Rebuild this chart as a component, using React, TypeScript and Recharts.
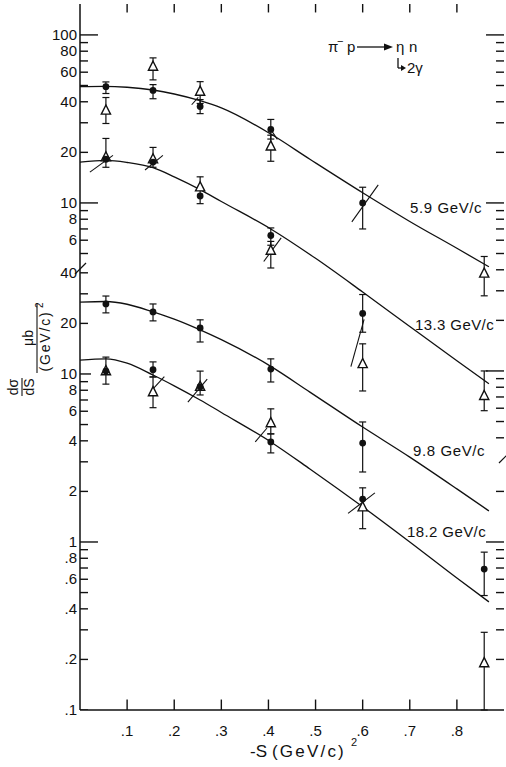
import React from 'react';
import { ComposedChart, XAxis, YAxis, Line, Scatter, ErrorBar, ReferenceLine } from 'recharts';

const W = 506;
const H = 767;
const FONT = '"Liberation Sans", Arial, Helvetica, sans-serif';
// upper panel (5.9 and 13.3 GeV/c) is displaced by this many decades on the shared log axis
const UPPER_OFFSET = 1.018;

// ---------- axis ticks ----------
const xTicks = [0.1, 0.2, 0.3, 0.4, 0.5, 0.6, 0.7, 0.8];
const xTickLabels = ['.1', '.2', '.3', '.4', '.5', '.6', '.7', '.8'];

const lowerLeftTicks = [0.1, 0.2, 0.3, 0.4, 0.5, 0.6, 0.7, 0.8, 0.9, 1, 2, 3, 4, 5, 6, 7, 8, 9, 10, 20, 30, 40];
const upperLeftTicks = [5, 6, 7, 8, 9, 10, 20, 30, 40, 50, 60, 70, 80, 90, 100];
const lowerRightTicks = [0.2, 0.3, 0.4, 0.5, 0.6, 0.7, 0.8, 0.9, 1, 2];
const upperRightTicks = [0.4, 0.5, 0.6, 0.7, 0.8, 0.9, 1, 2, 3, 4, 5, 6, 7, 8, 9, 10, 20, 30, 40, 50, 60, 70, 80, 90, 100];

const lowerLabels: Record<string, string> = {
  '0.1': '.1', '0.2': '.2', '0.4': '.4', '0.6': '.6', '0.8': '.8', '1': '1', '2': '2', '4': '4',
  '6': '6', '8': '8', '10': '10', '20': '20', '40': '40',
};
const upperLabels: Record<string, string> = {
  '6': '6', '8': '8', '10': '10', '20': '20', '40': '40', '60': '60', '80': '80', '100': '100',
};

// ---------- data: [ -t, value, low, high ] ----------
const circles59 = [
  [0.055, 49.2, 44.8, 52.5],
  [0.155, 46.7, 41.7, 50.6],
  [0.255, 37.5, 34.0, 41.2],
  [0.405, 27.4, 24.0, 31.4],
  [0.6, 10.0, 7.0, 12.4],
];
const triangles59 = [
  [0.055, 35.5, 29.7, 42.4],
  [0.155, 64.7, 54.0, 73.0],
  [0.255, 46.0, 39.1, 52.7],
  [0.405, 21.7, 17.7, 25.3],
  [0.858, 3.8, 2.8, 4.8],
];
const curve59T = [0, 0.05, 0.1, 0.155, 0.2, 0.255, 0.3, 0.405, 0.488, 0.6, 0.7, 0.8, 0.868];
const curve59V = [49.2, 49.4, 48.8, 47.0, 44.5, 40.6, 36.8, 25.7, 18.2, 11.5, 7.76, 5.37, 4.17];

const circles133 = [
  [0.055, 18.2, 16.3, 24.2],
  [0.155, 17.5, 16.3, 21.4],
  [0.255, 11.0, 9.9, 14.3],
  [0.405, 6.4, 5.6, 7.1],
  [0.6, 2.2, 1.7, 2.85],
];
const triangles133 = [
  [0.055, 18.7],
  [0.155, 18.2],
  [0.255, 12.4],
];
const triangles133Err = [
  [0.405, 5.2, 4.1, 5.9],
  [0.6, 1.1, 0.76, 1.45],
  [0.858, 0.71, 0.58, 1.0],
];
const curve133T = [0, 0.055, 0.1, 0.155, 0.2, 0.255, 0.3, 0.405, 0.5, 0.6, 0.7, 0.8, 0.868];
const curve133V = [17.5, 17.9, 17.4, 16.2, 14.3, 12.0, 10.2, 7.0, 4.68, 2.95, 1.84, 1.15, 0.84];

const circles98 = [
  [0.055, 26.1, 23.1, 29.1],
  [0.155, 23.4, 20.7, 26.1],
  [0.255, 18.8, 15.5, 21.0],
  [0.405, 10.7, 8.96, 12.3],
  [0.6, 3.88, 2.61, 5.18],
];
const curve98T = [0, 0.055, 0.1, 0.155, 0.2, 0.255, 0.3, 0.405, 0.488, 0.6, 0.7, 0.8, 0.868];
const curve98V = [26.8, 27.0, 26.0, 23.4, 21.2, 18.3, 16.0, 11.1, 7.8, 4.83, 3.2, 2.07, 1.53];

const circles182 = [
  [0.055, 10.4, 8.7, 12.6],
  [0.155, 10.6, 9.6, 11.8],
  [0.255, 8.4, 7.5, 10.4],
  [0.405, 3.94, 3.39, 4.4],
  [0.6, 1.8, 1.2, 2.1],
  [0.858, 0.69, 0.48, 0.87],
];
const triangles182 = [
  [0.055, 10.4],
  [0.255, 8.4],
  [0.6, 1.61],
];
const triangles182Err = [
  [0.155, 7.8, 6.3, 9.6],
  [0.405, 5.1, 4.4, 6.2],
  [0.858, 0.19, 0.1, 0.29],
];
const curve182T = [0, 0.055, 0.1, 0.155, 0.2, 0.255, 0.3, 0.405, 0.488, 0.6, 0.7, 0.8, 0.868];
const curve182V = [12.1, 12.3, 11.6, 9.86, 8.5, 7.0, 5.9, 3.94, 2.72, 1.62, 1.0, 0.61, 0.44];

// slanted resolution bars: [t1, v1, t2, v2, upperPanel]
const slants: [number, number, number, number, boolean][] = [
  [0.237, 38.4, 0.251, 42.5, true],
  [0.407, 26.8, 0.419, 23.9, true],
  [0.577, 7.72, 0.633, 12.8, true],
  [0.021, 15.25, 0.07, 19.2, true],
  [0.138, 15.7, 0.176, 19.2, true],
  [0.39, 4.48, 0.427, 6.2, true],
  [0.575, 1.06, 0.603, 2.03, true],
  [0.156, 8.22, 0.179, 9.63, false],
  [0.229, 6.8, 0.27, 9.33, false],
  [0.372, 3.94, 0.397, 4.77, false],
  [0.569, 1.48, 0.626, 1.96, false],
];

// ---------- helpers ----------
const toD = (v: number, upper: boolean) => Math.log10(v) + (upper ? UPPER_OFFSET : 0);
const X_MIN = 0;
const X_MAX = 0.9;
const D_MIN = -1;
const D_MAX = 3.202;
const MARGIN = { top: 4, right: 2, left: 0, bottom: 0 };
const Y_AXIS_W = 80;
const X_AXIS_H = 57;

const pts = (arr: number[][], upper: boolean) =>
  arr.map((p) => {
    const d = toD(p[1], upper);
    const o: any = { t: p[0], d };
    if (p.length > 2) o.err = [d - toD(p[2], upper), toD(p[3], upper) - d];
    return o;
  });
const curve = (ts: number[], vs: number[], upper: boolean) => ts.map((t, i) => ({ t, d: toD(vs[i], upper) }));

type Tk = { d: number; label: string; len: number };
const mkTicks = (vals: number[], upper: boolean, labels: Record<string, string> | null, longSet: number[]): Tk[] =>
  vals.map((v) => ({
    d: toD(v, upper),
    label: labels ? labels[String(v)] || '' : '',
    len: longSet.includes(v) ? 18 : v === 10 && !upper ? 11 : 8,
  }));

const leftTicks: Tk[] = [
  ...mkTicks(lowerLeftTicks, false, lowerLabels, [1]),
  ...mkTicks(upperLeftTicks, true, upperLabels, [10, 100]),
];
const rightTicks: Tk[] = [
  ...mkTicks(lowerRightTicks, false, null, [1]),
  ...mkTicks(upperRightTicks, true, null, [1, 10, 100]),
];
const findTick = (list: Tk[], v: number) => list.find((t) => Math.abs(t.d - v) < 1e-6);

// inward tick marks on all four sides of the frame, anchored through the chart scales.
// The anchor sits a little inside the frame and the stroke is drawn back out to the edge.
const IN = 0.004;
const frameTicks = [
  ...leftTicks.map((t) => ({ t: X_MIN + IN, d: t.d, ax: -1, dx: t.len, dy: 0 })),
  ...rightTicks.map((t) => ({ t: X_MAX - IN, d: t.d, ax: 1, dx: -t.len, dy: 0 })),
  ...xTicks.map((t) => ({ t, d: D_MIN + 0.02, ay: 1, dx: 0, dy: -13 })),
  ...xTicks.map((t) => ({ t, d: D_MAX - 0.02, ay: -1, dx: 0, dy: 11 })),
];

const LeftTick = (props: any) => {
  const { x, y, payload } = props;
  const tk = findTick(leftTicks, payload.value);
  if (!tk || !tk.label) return <g />;
  return (
    <text x={x - 3} y={y + 5} textAnchor="end" fontSize={15} fontFamily={FONT} fill="#111">
      {tk.label}
    </text>
  );
};
const BottomTick = (props: any) => {
  const { x, y, payload, index } = props;
  const i = xTicks.indexOf(payload.value);
  return (
    <text x={x} y={y + 26} textAnchor="middle" fontSize={15} fontFamily={FONT} fill="#111">
      {xTickLabels[i >= 0 ? i : index]}
    </text>
  );
};

// one stroke per frame tick; starts on the frame edge (snapped by the anchor offset) and runs inward
const TickStroke = (p: any) => {
  const pl = p.payload || {};
  const x0 = p.cx + (pl.ax ? pl.ax * 1.9 : 0);
  const y0 = p.cy + (pl.ay ? pl.ay * 5.9 : 0);
  const x1 = pl.dx ? x0 + pl.dx : x0;
  const y1 = pl.dy ? y0 + pl.dy : y0;
  return <path d={`M${x0},${y0}L${x1},${y1}`} stroke="#111" strokeWidth={1.4} fill="none" />;
};
const Dot = (p: any) => <circle cx={p.cx} cy={p.cy} r={3.4} fill="#111" />;
const Tri = (p: any) => (
  <polygon
    points={`${p.cx},${p.cy - 5.5} ${p.cx - 4.6},${p.cy + 3.6} ${p.cx + 4.6},${p.cy + 3.6}`}
    fill="#fff"
    stroke="#111"
    strokeWidth={1.4}
  />
);

const curves = [
  curve(curve59T, curve59V, true),
  curve(curve133T, curve133V, true),
  curve(curve98T, curve98V, false),
  curve(curve182T, curve182V, false),
];
const triErr = [pts(triangles59, true), pts(triangles133Err, true), pts(triangles182Err, false)];
const triNoErr = [pts(triangles133, true), pts(triangles182, false)];
const dotSets = [pts(circles59, true), pts(circles133, true), pts(circles98, false), pts(circles182, false)];

const txt = { fontFamily: FONT, fill: '#111' } as const;

export default function App() {
  return (
    <div style={{ position: 'relative', width: W, height: H, background: '#fff' }}>
      <style>{`body{margin:0;background:#fff}`}</style>
      <ComposedChart width={W} height={H} margin={MARGIN}>
        <XAxis
          xAxisId="b"
          dataKey="t"
          type="number"
          domain={[X_MIN, X_MAX]}
          allowDataOverflow
          ticks={xTicks}
          interval={0}
          height={X_AXIS_H}
          tickSize={0}
          tickMargin={0}
          tickLine={false}
          axisLine={{ stroke: '#111', strokeWidth: 1.5 }}
          tick={(p: any) => <BottomTick {...p} />}
        />
        <XAxis
          xAxisId="top"
          orientation="top"
          dataKey="t"
          type="number"
          domain={[X_MIN, X_MAX]}
          allowDataOverflow
          height={0}
          tick={false}
          tickLine={false}
          axisLine={{ stroke: '#111', strokeWidth: 1.5 }}
        />
        <YAxis
          yAxisId="l"
          type="number"
          domain={[D_MIN, D_MAX]}
          allowDataOverflow
          ticks={leftTicks.map((t) => t.d)}
          interval={0}
          width={Y_AXIS_W}
          tickSize={0}
          tickMargin={0}
          tickLine={false}
          axisLine={{ stroke: '#111', strokeWidth: 1.5 }}
          tick={(p: any) => <LeftTick {...p} />}
        />
        <YAxis
          yAxisId="r"
          orientation="right"
          type="number"
          domain={[D_MIN, D_MAX]}
          allowDataOverflow
          width={0}
          tick={false}
          tickLine={false}
          axisLine={{ stroke: '#111', strokeWidth: 1.5 }}
        />
        {curves.map((c, i) => (
          <Line
            key={'c' + i}
            xAxisId="b"
            yAxisId="l"
            data={c}
            dataKey="d"
            type="monotone"
            dot={false}
            activeDot={false}
            stroke="#111"
            strokeWidth={1.3}
            isAnimationActive={false}
          />
        ))}
        <Scatter
          xAxisId="b"
          yAxisId="l"
          data={frameTicks}
          dataKey="d"
          shape={(p: any) => <TickStroke {...p} />}
          isAnimationActive={false}
        />
        {slants.map((s, i) => (
          <ReferenceLine
            key={'s' + i}
            xAxisId="b"
            yAxisId="l"
            segment={[
              { x: s[0], y: toD(s[1], s[4]) },
              { x: s[2], y: toD(s[3], s[4]) },
            ]}
            stroke="#111"
            strokeWidth={1.1}
            ifOverflow="visible"
          />
        ))}
        {triErr.map((d, i) => (
          <Scatter
            key={'te' + i}
            xAxisId="b"
            yAxisId="l"
            data={d}
            dataKey="d"
            shape={(p: any) => <Tri {...p} />}
            isAnimationActive={false}
          >
            <ErrorBar dataKey="err" direction="y" width={3.5} stroke="#111" strokeWidth={1.2} />
          </Scatter>
        ))}
        {triNoErr.map((d, i) => (
          <Scatter
            key={'tn' + i}
            xAxisId="b"
            yAxisId="l"
            data={d}
            dataKey="d"
            shape={(p: any) => <Tri {...p} />}
            isAnimationActive={false}
          />
        ))}
        {dotSets.map((d, i) => (
          <Scatter
            key={'dt' + i}
            xAxisId="b"
            yAxisId="l"
            data={d}
            dataKey="d"
            shape={(p: any) => <Dot {...p} />}
            isAnimationActive={false}
          >
            <ErrorBar dataKey="err" direction="y" width={3.5} stroke="#111" strokeWidth={1.2} />
          </Scatter>
        ))}
      </ComposedChart>
      <svg
        width={W}
        height={H}
        style={{ position: 'absolute', left: 0, top: 0, pointerEvents: 'none' }}
      >
        {/* axis breaks */}
        <line x1={75} y1={274} x2={86} y2={263} stroke="#111" strokeWidth={1.2} />
        <line x1={499} y1={463} x2={507} y2={455} stroke="#111" strokeWidth={1.2} />
        {/* curve labels */}
        <text x={410} y={213} fontSize={15} letterSpacing={0.6} {...txt}>5.9 GeV/c</text>
        <text x={415} y={330} fontSize={15} letterSpacing={0.4} {...txt}>13.3 GeV/c</text>
        <text x={413} y={456} fontSize={15} letterSpacing={0.6} {...txt}>9.8 GeV/c</text>
        <text x={407} y={537} fontSize={15} letterSpacing={0.4} {...txt}>18.2 GeV/c</text>
        {/* reaction */}
        <text x={328} y={52} fontSize={15} {...txt}>π</text>
        <text x={337} y={45} fontSize={11} {...txt}>−</text>
        <text x={347} y={52} fontSize={15} {...txt}>p</text>
        <line x1={357} y1={47} x2={385} y2={47} stroke="#111" strokeWidth={1.3} />
        <polygon points="384,43.5 393,47 384,50.5" fill="#111" />
        <text x={396} y={52} fontSize={15} {...txt}>η</text>
        <text x={409} y={52} fontSize={15} {...txt}>n</text>
        <line x1={398} y1={58} x2={398} y2={68} stroke="#111" strokeWidth={1.3} />
        <line x1={398} y1={68} x2={402} y2={68} stroke="#111" strokeWidth={1.3} />
        <polygon points="401,65 406,68 401,71" fill="#111" />
        <text x={407} y={73} fontSize={15} {...txt}>2γ</text>
        {/* x title */}
        <text x={250} y={757} fontSize={17} {...txt}>-S</text>
        <text x={272} y={757} fontSize={17} letterSpacing={2.2} {...txt}>(GeV/c)</text>
        <text x={351} y={746} fontSize={11} {...txt}>2</text>
        {/* y title */}
        <g transform="translate(22,387) rotate(-90)">
          <text x={0} y={-4} fontSize={14} textAnchor="middle" {...txt}>dσ</text>
          <line x1={-9} y1={0} x2={9} y2={0} stroke="#111" strokeWidth={1.1} />
          <text x={0} y={12} fontSize={14} textAnchor="middle" {...txt}>dS</text>
        </g>
        <g transform="translate(37,338) rotate(-90)">
          <text x={0} y={-4} fontSize={14} textAnchor="middle" {...txt}>μb</text>
          <line x1={-35} y1={0} x2={35} y2={0} stroke="#111" strokeWidth={1.1} />
          <text x={-3} y={13} fontSize={14} letterSpacing={1.8} textAnchor="middle" {...txt}>(GeV/c)</text>
          <text x={30} y={6} fontSize={10} {...txt}>2</text>
        </g>
      </svg>
    </div>
  );
}
